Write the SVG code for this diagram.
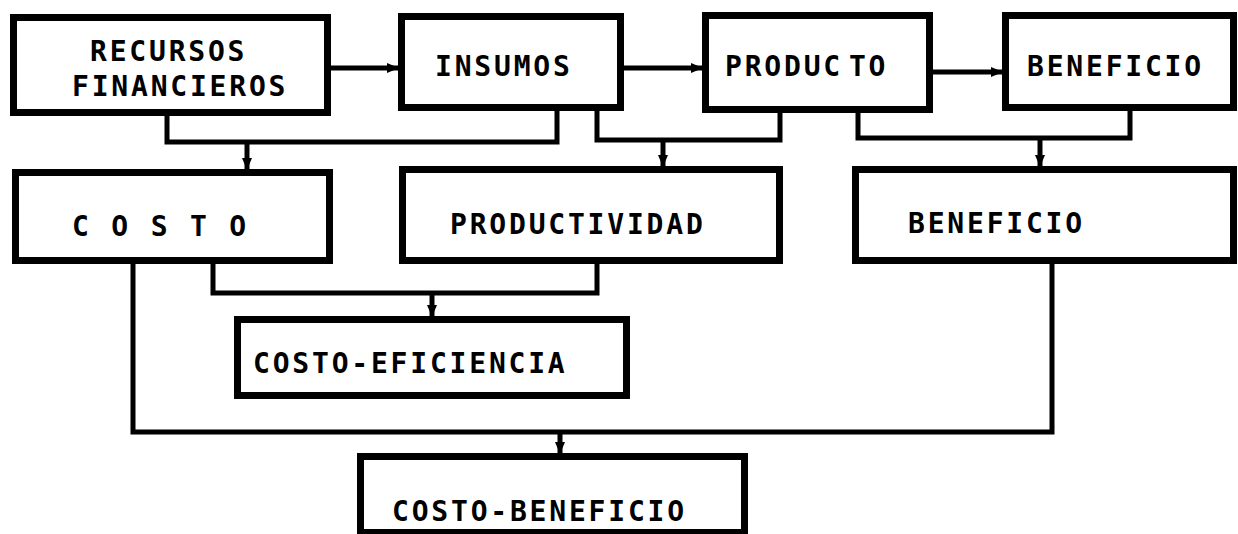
<svg xmlns="http://www.w3.org/2000/svg" width="1238" height="534" viewBox="0 0 1238 534">
<style>
.box{fill:#fff;stroke:#000;stroke-width:7;stroke-linejoin:miter}
.lbl{font-family:"DejaVu Sans Mono","Liberation Mono",monospace;font-weight:bold;font-size:28px;letter-spacing:2.8px;fill:#000}
.con{fill:none;stroke:#000;stroke-width:5;stroke-linejoin:miter}
</style>
<defs>
<marker id="ah" markerUnits="userSpaceOnUse" markerWidth="12" markerHeight="12" viewBox="0 0 12 12" refX="11" refY="6" orient="auto">
<path d="M0,1 L12,6 L0,11 Z" fill="#000"/>
</marker>
</defs>
<rect width="1238" height="534" fill="#fff"/>
<g id="connectors">
<line class="con" x1="331" y1="68" x2="398" y2="68" marker-end="url(#ah)"/>
<line class="con" x1="624" y1="68" x2="702" y2="68" marker-end="url(#ah)"/>
<line class="con" x1="933" y1="72" x2="1002" y2="72" marker-end="url(#ah)"/>
<polyline class="con" points="167,116 167,142 557,142 557,111"/>
<line class="con" x1="247" y1="142" x2="247" y2="169" marker-end="url(#ah)"/>
<polyline class="con" points="597,111 597,140 780,140 780,113"/>
<line class="con" x1="663" y1="140" x2="663" y2="166" marker-end="url(#ah)"/>
<polyline class="con" points="858,113 858,138 1130,138 1130,111"/>
<line class="con" x1="1040" y1="138" x2="1040" y2="166" marker-end="url(#ah)"/>
<polyline class="con" points="213,264 213,293 597,293 597,264"/>
<line class="con" x1="432" y1="293" x2="432" y2="316" marker-end="url(#ah)"/>
<polyline class="con" points="133,264 133,432 1052,432 1052,264"/>
<line class="con" x1="560" y1="432" x2="560" y2="453" marker-end="url(#ah)"/>
</g>
<g id="recursos">
<rect class="box" x="13.5" y="17.5" width="314" height="95"/>
<text class="lbl" x="90" y="61">RECURSOS</text>
<text class="lbl" x="72" y="96">FINANCIEROS</text>
</g>
<g id="insumos">
<rect class="box" x="401.5" y="16.5" width="219" height="91"/>
<text class="lbl" x="435" y="76">INSUMOS</text>
</g>
<g id="producto">
<rect class="box" x="705.5" y="15.5" width="224" height="94"/>
<text class="lbl" x="725" y="76">PRODUC<tspan dx="6">TO</tspan></text>
</g>
<g id="beneficio-top">
<rect class="box" x="1005.5" y="15.5" width="228" height="92"/>
<text class="lbl" x="1027" y="76">BENEFICIO</text>
</g>
<g id="costo">
<rect class="box" x="15.5" y="172.5" width="314" height="88"/>
<text class="lbl" x="72" y="236">C O S T O</text>
</g>
<g id="productividad">
<rect class="box" x="402.5" y="169.5" width="377" height="91"/>
<text class="lbl" x="450" y="234">PRODUCTIVIDAD</text>
</g>
<g id="beneficio">
<rect class="box" x="855.5" y="169.5" width="378" height="91"/>
<text class="lbl" x="908" y="233">BENEFICIO</text>
</g>
<g id="costo-eficiencia">
<rect class="box" x="237.5" y="319.5" width="389" height="76"/>
<text class="lbl" x="253" y="373">COSTO-EFICIENCIA</text>
</g>
<g id="costo-beneficio">
<rect class="box" x="360.5" y="456.5" width="384" height="76"/>
<text class="lbl" x="392" y="521">COSTO-BENEFICIO</text>
</g>
</svg>
